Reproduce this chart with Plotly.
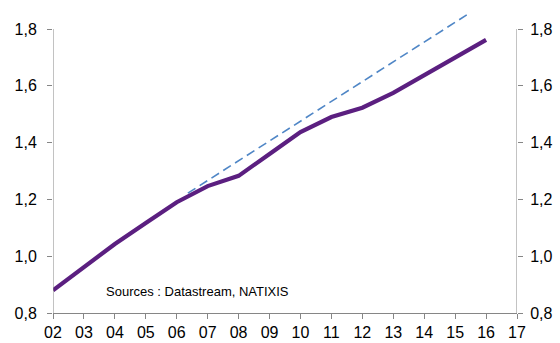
import plotly.graph_objects as go

years = [2, 3, 4, 5, 6, 7, 8, 9, 10, 11, 12, 13, 14, 15, 16]
values = [0.88, 0.962, 1.043, 1.117, 1.19, 1.247, 1.283, 1.36, 1.437, 1.49, 1.523, 1.575, 1.637, 1.698, 1.762]
trend_x = [6.36, 15.42]
trend_y = [1.222, 1.853]
tick_vals_x = list(range(2, 18))
tick_text_x = [f"{v:02d}" for v in tick_vals_x]
tick_vals_y = [0.8, 1.0, 1.2, 1.4, 1.6, 1.8]
tick_text_y = ["0,8", "1,0", "1,2", "1,4", "1,6", "1,8"]
source_text = "Sources : Datastream, NATIXIS"

axis_color = "#868686"
font = dict(family="Liberation Sans, Arial, sans-serif", size=16, color="#000000")

fig = go.Figure()
fig.add_trace(go.Scatter(x=trend_x, y=trend_y, mode="lines",
                         line=dict(color="#4F86C6", width=1.6, dash="9px,5px"),
                         hoverinfo="skip", showlegend=False))
fig.add_trace(go.Scatter(x=years, y=values, mode="lines",
                         line=dict(color="#5B1F80", width=4.2),
                         showlegend=False))
fig.add_trace(go.Scatter(x=years, y=values, mode="lines", yaxis="y2",
                         line=dict(color="rgba(0,0,0,0)", width=0),
                         hoverinfo="skip", showlegend=False))

yr = [0.8, 1.86]
fig.update_layout(
    width=560, height=343,
    margin=dict(l=53, r=43, t=12, b=30, autoexpand=False),
    plot_bgcolor="white", paper_bgcolor="white",
    font=font,
    xaxis=dict(range=[2, 17], tickmode="array", tickvals=tick_vals_x, ticktext=tick_text_x,
               showgrid=False, zeroline=False, showline=True, linecolor=axis_color, linewidth=1,
               ticks="outside", ticklen=5, tickcolor=axis_color, tickfont=font,
               automargin=False),
    yaxis=dict(range=yr, tickmode="array", tickvals=tick_vals_y, ticktext=tick_text_y,
               showgrid=False, zeroline=False, showline=False,
               ticks="outside", ticklen=5, tickcolor=axis_color, tickfont=font,
               automargin=False, ticklabelstandoff=7),
    yaxis2=dict(range=yr, overlaying="y", side="right", tickmode="array",
                tickvals=tick_vals_y, ticktext=tick_text_y,
                showgrid=False, zeroline=False, showline=False,
                ticks="outside", ticklen=5, tickcolor=axis_color, tickfont=font,
                automargin=False, ticklabelstandoff=4),
    shapes=[
        dict(type="line", xref="x", yref="y", x0=2, x1=2, y0=0.8, y1=1.8,
             line=dict(color=axis_color, width=1)),
        dict(type="line", xref="x", yref="y", x0=17, x1=17, y0=0.8, y1=1.8,
             line=dict(color=axis_color, width=1)),
    ],
    annotations=[dict(x=3.65, y=0.877, xref="x", yref="y", text=source_text, showarrow=False,
                      xanchor="left", yanchor="middle",
                      font=dict(family="Liberation Sans, Arial, sans-serif", size=13, color="#000000"))],
)
fig.write_html("out.html", config={"displayModeBar": False},
               post_script="document.body.style.margin='0';document.body.style.overflow='hidden';")
